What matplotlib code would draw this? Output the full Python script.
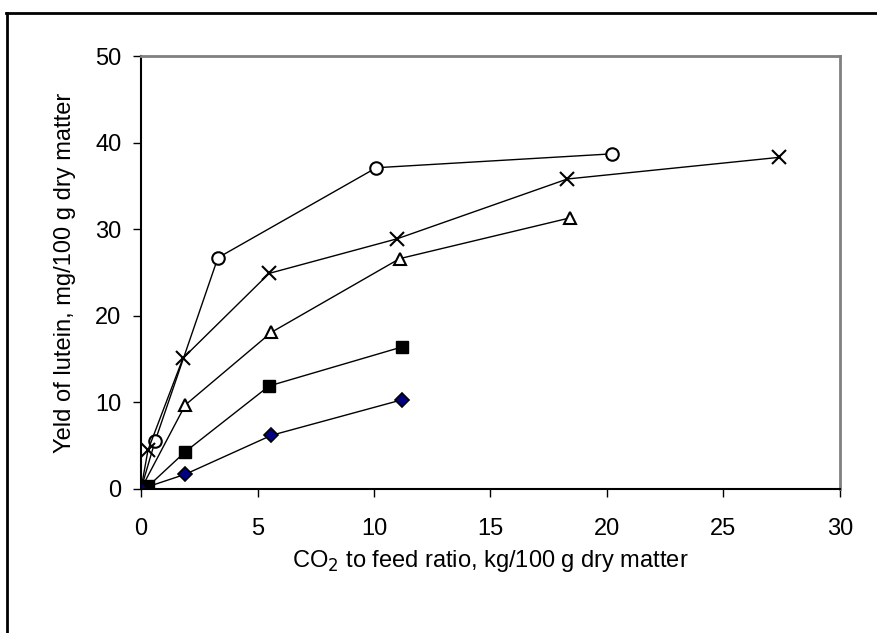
import matplotlib.pyplot as plt
from matplotlib.lines import Line2D

plt.rcParams['font.family'] = ['Liberation Sans', 'DejaVu Sans']

# data
circ_x = [0, 0.6, 3.3, 10.1, 20.2]
circ_y = [0, 5.5, 26.7, 37.1, 38.7]
cross_x = [0, 0.3, 1.8, 5.5, 11.0, 18.3, 27.4]
cross_y = [0, 4.5, 15.1, 24.9, 28.9, 35.8, 38.3]
tri_x = [0, 1.9, 5.6, 11.1, 18.4]
tri_y = [0, 9.7, 18.1, 26.6, 31.3]
sq_x = [0, 0.3, 1.9, 5.5, 11.2]
sq_y = [0, 0.3, 4.3, 11.9, 16.4]
dia_x = [0, 1.9, 5.6, 11.2]
dia_y = [0, 1.7, 6.2, 10.3]

fig = plt.figure(figsize=(8.78, 6.33), dpi=100)
ax = fig.add_axes([0.1606, 0.2275, 0.7961, 0.684])

lw = 1.0
ax.plot(circ_x, circ_y, color='black', lw=lw, marker='o', ms=9, mfc='white', mec='black', mew=1.5)
ax.plot(cross_x, cross_y, color='black', lw=lw, marker='x', ms=10, mec='black', mew=1.5)
ax.plot(tri_x, tri_y, color='black', lw=lw, marker='^', ms=9, mfc='white', mec='black', mew=1.5)
ax.plot(sq_x, sq_y, color='black', lw=lw, marker='s', ms=9, mfc='black', mec='black')
ax.plot(dia_x, dia_y, color='black', lw=lw, marker='D', ms=7, mfc='#000080', mec='black', mew=1.2)

ax.set_xlim(0, 30)
ax.set_ylim(0, 50)
ax.set_xticks([0, 5, 10, 15, 20, 25, 30])
ax.set_yticks([0, 10, 20, 30, 40, 50])
ax.tick_params(labelsize=17, direction='out', length=6, width=1, pad=8)
ax.tick_params(axis='x', pad=15)

for s in ['left', 'bottom']:
    ax.spines[s].set_color('black')
    ax.spines[s].set_linewidth(1.5)
for s in ['top', 'right']:
    ax.spines[s].set_color('#808080')
    ax.spines[s].set_linewidth(2)

ax.set_xlabel('CO$_2$ to feed ratio, kg/100 g dry matter', fontsize=17, labelpad=6)
ax.set_ylabel('Yeld of lutein, mg/100 g dry matter', fontsize=17, labelpad=14)

# outer chart border (top and left only visible)
fig.add_artist(Line2D([0.007, 1.0], [0.979, 0.979], transform=fig.transFigure, color='black', lw=2))
fig.add_artist(Line2D([0.008, 0.008], [0.0, 0.979], transform=fig.transFigure, color='black', lw=2))

fig.savefig('out.png', dpi=100)
